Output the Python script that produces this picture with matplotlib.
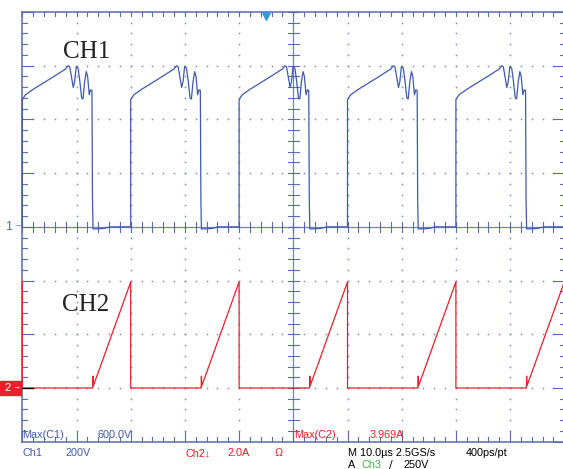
import numpy as np
import matplotlib.pyplot as plt
from matplotlib.patches import Rectangle

# scope settings
ch1_scale = 200.0      # V/div
ch2_scale = 2.0        # A/div
ch1_offset = 0.0       # div
ch2_offset = -3.0      # div
time_scale = 10.0      # us/div

# one switching cycle, times in us from the CH1 rising edge
cycle_starts = [0, 20, 40, 60, 80]

ch1_t = [0.0, 0.0, 0.6, 2.0, 4.0, 6.0, 8.0, 8.45, 8.75, 9.1, 9.4, 9.65, 9.95,
         10.3, 10.6, 10.95, 11.2, 11.5, 11.8, 12.05, 12.35, 12.6, 12.85,
         12.95, 13.05, 15.0, 16.2, 19.95]
ch1_v = [0, 474, 492, 512, 537, 562, 588, 600, 596, 555, 519, 540, 597,
         590, 545, 480, 476, 540, 578, 560, 492, 510, 508,
         100, -8, -6, 0, 0]

ch2_t = [0.0, 0.0, 0.3, 12.95, 13.0, 13.05, 13.1, 14.5, 16.0, 18.0, 20.0]
ch2_i = [3.95, 0.0, 0.0, 0.0, 0.0, 0.44, 0.08, 0.85, 1.7, 2.82, 3.95]

blue = '#3f5aac'
red = '#e8202a'
grat = '#5a6aae'
dots = '#7c8ac2'

plt.rcParams['font.family'] = ['Liberation Sans', 'DejaVu Sans']

W, H = 563, 469
fig = plt.figure(figsize=(W / 100, H / 100), dpi=100)
fig.patch.set_facecolor('white')
ax = fig.add_axes([22.3 / W, 1 - 441.7 / H, 542 / W, 429.7 / H])
ax.set_xlim(0, 10)
ax.set_ylim(-4, 4)
ax.axis('off')

# graticule
for x in [0, 10]:
    ax.plot([x, x], [-4, 4], color=grat, lw=1.1, clip_on=False)
for y in [-4, 4]:
    ax.plot([0, 10], [y, y], color=grat, lw=1.1, clip_on=False)
ax.plot([5, 5], [-4, 4], color=grat, lw=0.9, alpha=0.85)
ax.plot([0, 10], [0, 0], color=grat, lw=0.9, alpha=0.85)

xs = np.arange(0, 10.01, 0.2)
ys = np.arange(-4, 4.01, 0.2)
for i in range(1, 10):
    if i != 5:
        ax.plot([i] * len(ys), ys, 's', color=dots, ms=1.1, mew=0)
for j in range(-3, 4):
    if j != 0:
        ax.plot(xs, [j] * len(xs), 's', color=dots, ms=1.1, mew=0)

for x in xs:
    ax.plot([x, x], [-0.09, 0.09], color=grat, lw=0.8)
    ax.plot([x, x], [4, 3.925], color=grat, lw=0.8)
    big = abs(x - round(x)) < 1e-6
    ax.plot([x, x], [-4, -4 + (0.19 if big else 0.09)], color=grat, lw=0.8)
for y in ys:
    ax.plot([4.9, 5.1], [y, y], color=grat, lw=0.8)
    big = abs(y - round(y)) < 1e-6
    ln = 0.2 if big else 0.08
    ax.plot([0, ln], [y, y], color=grat, lw=0.8)
    ax.plot([10 - ln, 10], [y, y], color=grat, lw=0.8, clip_on=False)

# traces
t1, v1, t2, v2 = [], [], [], []
for s in cycle_starts:
    t1 += [s + t for t in ch1_t]
    v1 += [v / ch1_scale + ch1_offset for v in ch1_v]
    t2 += [s + t for t in ch2_t]
    v2 += [i / ch2_scale + ch2_offset for i in ch2_i]
ax.plot(np.array(t1) / time_scale, v1, color=blue, lw=0.9, clip_on=False)
ax.plot(np.array(t2) / time_scale, v2, color=red, lw=0.9, clip_on=False)
ax.plot([0, 0.2], [ch2_offset, ch2_offset], color='black', lw=0.9)

# trigger marker
ax.plot([4.5], [3.93], 'v', color='#3a9ad9', ms=5.5, clip_on=False)

# channel labels
ax.text(0.75, 3.15, 'CH1', family='Liberation Serif', fontsize=18,
        color='#222222', va='baseline')
ax.text(0.73, -1.56, 'CH2', family='Liberation Serif', fontsize=18,
        color='#222222', va='baseline')


def px(x, y, s, c, **kw):
    fig.text(x / W, 1 - y / H, s, color=c, va='center', ha='left',
             fontsize=kw.pop('fontsize', 7.8), **kw)


# ground markers
px(5, 227, '1', grat, fontsize=9)
px(13, 226, '→', grat, fontsize=6)
fig.patches.append(Rectangle((0, 1 - 395 / H), 21 / W, 14 / H,
                             transform=fig.transFigure, color='#e8202a'))
px(4, 388, '2', 'white', fontsize=8)
px(12, 388, '→', 'white', fontsize=6)

# readouts
px(22, 434.5, 'Max(C1)', blue)
px(97, 434.5, '600.0V', blue)
px(294, 435, 'Max(C2)', red)
px(370, 435, '3.969A', red)

px(22, 453, 'Ch1', blue)
px(66, 453, '200V', blue)
px(185, 453, 'Ch2↓', red)
px(228, 453, '2.0A', red)
px(275, 453, 'Ω', red)
px(348, 453, 'M 10.0µs 2.5GS/s', 'black')
px(466, 453, '400ps/pt', 'black')
px(348, 465, 'A', 'black')
px(361, 465, 'Ch3', '#4caf50')
px(389, 465, '∕', 'black', fontsize=7.8, family='DejaVu Sans')
px(403, 465, '250V', 'black')

fig.savefig('out.png', dpi=100)
